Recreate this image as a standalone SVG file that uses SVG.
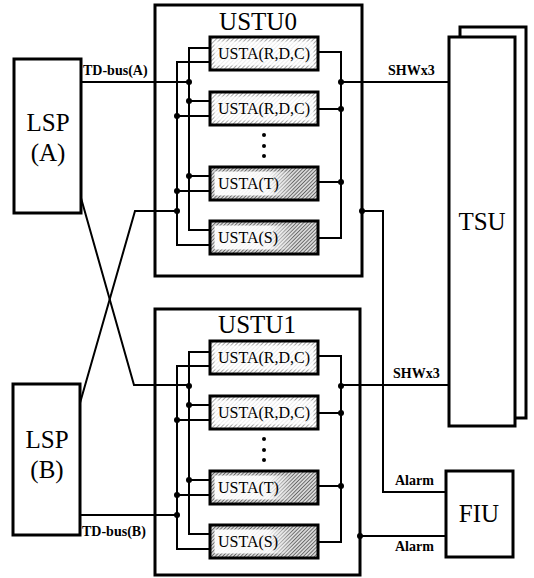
<svg xmlns="http://www.w3.org/2000/svg" width="534" height="578" viewBox="0 0 534 578">
<style>
.box{fill:#fff;stroke:#000;stroke-width:3}
.frame{fill:none;stroke:#000;stroke-width:3}
.ln{fill:none;stroke:#000;stroke-width:2}
.dot{fill:#000}
.usta{fill:url(#hatch);stroke:#000;stroke-width:3}
.ustad{fill:url(#hatchDark);stroke:#000;stroke-width:3}
.inner{fill:#fff;fill-opacity:0.8;stroke:none}
.innerTS{fill:url(#fadeTS);stroke:none}
text{font-family:"Liberation Serif","Times New Roman",serif;fill:#000}
.ut{font-size:16px}
.big{font-size:25px;text-anchor:middle}
.lbl{font-size:14px;font-weight:bold}
</style>
<defs>
<pattern id="hatch" width="3" height="3" patternUnits="userSpaceOnUse" patternTransform="rotate(45)">
<rect width="3" height="3" fill="#ffffff"/>
<line x1="0" y1="0" x2="0" y2="3" stroke="#6a6a6a" stroke-width="1.2"/>
</pattern>
<pattern id="hatchDark" width="2.6" height="2.6" patternUnits="userSpaceOnUse" patternTransform="rotate(45)">
<rect width="2.6" height="2.6" fill="#d8d8d8"/>
<line x1="0" y1="0" x2="0" y2="2.6" stroke="#3c3c3c" stroke-width="1.3"/>
</pattern>
<linearGradient id="fadeTS" x1="0" y1="0" x2="1" y2="0">
<stop offset="0" stop-color="#fff" stop-opacity="0.95"/>
<stop offset="0.55" stop-color="#fff" stop-opacity="0.9"/>
<stop offset="0.8" stop-color="#fff" stop-opacity="0"/>
</linearGradient>
<g id="ustu-body">
<path class="ln" d="M210,48 H189 V230 H210"/>
<path class="ln" d="M210,62 H177 V245 H210"/>
<path class="ln" d="M189,101 H210 M189,176 H210 M177,116 H210 M177,191 H210"/>
<path class="ln" d="M318,52 H341 V238 H318 M318,109 H341 M318,182 H341"/>
<circle class="dot" cx="189" cy="82" r="3"/>
<circle class="dot" cx="189" cy="101" r="3"/>
<circle class="dot" cx="189" cy="176" r="3"/>
<circle class="dot" cx="177" cy="116" r="3"/>
<circle class="dot" cx="177" cy="191" r="3"/>
<circle class="dot" cx="177" cy="211" r="3"/>
<circle class="dot" cx="341" cy="82" r="3"/>
<circle class="dot" cx="341" cy="109" r="3"/>
<circle class="dot" cx="341" cy="182" r="3"/>
<rect class="usta" x="210" y="37" width="108" height="33"/>
<rect class="inner" x="214.5" y="41.5" width="99" height="24"/>
<text class="ut" x="218" y="59">USTA(R,D,C)</text>
<rect class="usta" x="210" y="92" width="108" height="33"/>
<rect class="inner" x="214.5" y="96.5" width="99" height="24"/>
<text class="ut" x="218" y="114">USTA(R,D,C)</text>
<circle class="dot" cx="264" cy="135" r="2"/>
<circle class="dot" cx="264" cy="146" r="2"/>
<circle class="dot" cx="264" cy="156" r="2"/>
<rect class="ustad" x="210" y="167" width="108" height="33"/>
<rect class="innerTS" x="214.5" y="171.5" width="99" height="24"/>
<text class="ut" x="218" y="189">USTA(T)</text>
<rect class="ustad" x="210" y="221" width="108" height="33"/>
<rect class="innerTS" x="214.5" y="225.5" width="99" height="24"/>
<text class="ut" x="218" y="243">USTA(S)</text>
</g>
</defs>
<rect width="534" height="578" fill="#fff"/>

<g id="connectors">
<path class="ln" d="M81,82 H189"/>
<path class="ln" d="M81,198 L134,385 H189"/>
<path class="ln" d="M80,403 L135,211 H177"/>
<path class="ln" d="M80,515 H177"/>
<path class="ln" d="M341,82 H449"/>
<path class="ln" d="M341,385 H449"/>
<path class="ln" d="M362,211 H383 V492 H446"/>
<path class="ln" d="M360,536 H446"/>
<circle class="dot" cx="362" cy="211" r="3"/>
<circle class="dot" cx="360" cy="536" r="3"/>
<text class="lbl" x="83" y="75">TD-bus(A)</text>
<text class="lbl" x="82" y="536">TD-bus(B)</text>
<text class="lbl" x="388" y="75">SHWx3</text>
<text class="lbl" x="393" y="378">SHWx3</text>
<text class="lbl" x="395" y="485">Alarm</text>
<text class="lbl" x="395" y="551">Alarm</text>
</g>

<g id="lspA">
<rect class="box" x="14" y="59" width="67" height="154"/>
<text class="big" x="48" y="131">LSP</text>
<text class="big" x="48" y="161">(A)</text>
</g>

<g id="lspB">
<rect class="box" x="13" y="384" width="67" height="151"/>
<text class="big" x="47" y="448">LSP</text>
<text class="big" x="47" y="478">(B)</text>
</g>

<g id="ustu0">
<rect class="frame" x="155" y="5" width="207" height="271"/>
<text class="big" x="258" y="30">USTU0</text>
<use href="#ustu-body"/>
</g>

<g id="ustu1">
<rect class="frame" x="155" y="309" width="205" height="266"/>
<text class="big" x="257" y="333">USTU1</text>
<use href="#ustu-body" transform="translate(0,304)"/>
</g>

<g id="tsu">
<path class="frame" d="M460,37 V27 H526 V418 H515"/>
<rect class="box" x="449" y="37" width="66" height="389"/>
<text class="big" x="482" y="230">TSU</text>
</g>

<g id="fiu">
<rect class="box" x="446" y="471" width="67" height="86"/>
<text class="big" x="479" y="522">FIU</text>
</g>
</svg>
